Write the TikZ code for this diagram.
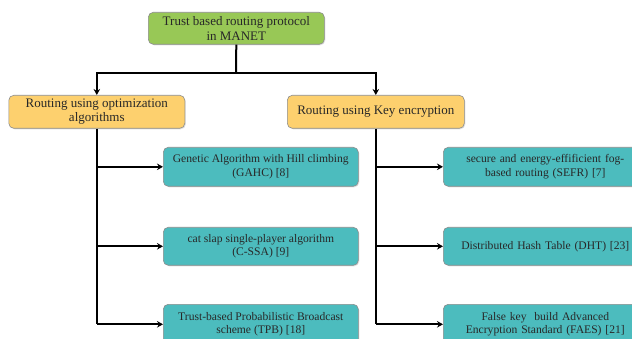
\documentclass[tikz,border=0pt]{standalone}
\usepackage{fontspec}
\setmainfont{Liberation Serif}
\usetikzlibrary{arrows.meta,shadows}
\definecolor{topgreen}{RGB}{152,200,86}
\definecolor{midorange}{RGB}{253,208,110}
\definecolor{leafteal}{RGB}{76,188,190}
\definecolor{edgegray}{RGB}{140,140,140}
\definecolor{txtgray}{RGB}{40,40,40}
\tikzset{
  boxbase/.style={draw=edgegray, line width=0.6pt, rounded corners=5pt, align=center, inner sep=0pt, anchor=north west, text=txtgray, drop shadow={shadow xshift=1pt, shadow yshift=-1pt, opacity=0.25}},
  topbox/.style={boxbase, fill=topgreen, font=\fontsize{13}{14.5}\selectfont},
  midbox/.style={boxbase, fill=midorange, font=\fontsize{13}{14.5}\selectfont},
  leafbox/.style={boxbase, fill=leafteal, font=\fontsize{11.6}{13.5}\selectfont},
  conn/.style={line width=2pt, black},
  arr/.style={conn, -{Stealth[length=6pt,width=6.5pt]}}
}
\begin{document}
\begin{tikzpicture}[x=1pt,y=-1pt]
\useasboundingbox (0,0) rectangle (632,339);
\node[topbox, minimum width=176pt, minimum height=32pt] (top) at (148,12) {Trust based routing protocol\\in MANET};
\node[midbox, minimum width=176pt, minimum height=33pt] (opt) at (8.5,95) {Routing using optimization\\algorithms};
\node[midbox, minimum width=177pt, minimum height=33pt] (key) at (287,95) {Routing using Key encryption};
\node[leafbox, minimum width=195pt, minimum height=39pt] (gahc) at (163,147) {Genetic Algorithm with Hill climbing\\(GAHC) [8]};
\node[leafbox, minimum width=195pt, minimum height=38pt] (cssa) at (163,227) {cat slap single-player algorithm\\(C-SSA) [9]};
\node[leafbox, minimum width=195pt, minimum height=40pt] (tpb) at (163,304) {Trust-based Probabilistic Broadcast\\scheme (TPB) [18]};
\node[leafbox, minimum width=204pt, minimum height=39pt, text width=200pt] (sefr) at (443,147) {secure and energy-effificient fog-\\based routing (SEFR) [7]};
\node[leafbox, minimum width=204pt, minimum height=38pt, text width=200pt] (dht) at (443,227) {Distributed Hash Table (DHT) [23]};
\node[leafbox, minimum width=204pt, minimum height=40pt, text width=200pt] (faes) at (443,304) {False key\ \ build Advanced\\Encryption Standard (FAES) [21]};
\coordinate (hub) at (236,73);
\draw[conn] (top.south) -- (hub);
\draw[arr] (hub) -| (opt.north);
\draw[arr] (hub) -| (key.north);
\draw[conn] (opt.south) -- (opt.south |- tpb.west);
\draw[arr] (opt.south |- gahc.west) -- (gahc.west);
\draw[arr] (opt.south |- cssa.west) -- (cssa.west);
\draw[arr] (opt.south |- tpb.west) -- (tpb.west);
\draw[conn] (key.south) -- (key.south |- faes.west);
\draw[arr] (key.south |- sefr.west) -- (sefr.west);
\draw[arr] (key.south |- dht.west) -- (dht.west);
\draw[arr] (key.south |- faes.west) -- (faes.west);
\end{tikzpicture}
\end{document}
